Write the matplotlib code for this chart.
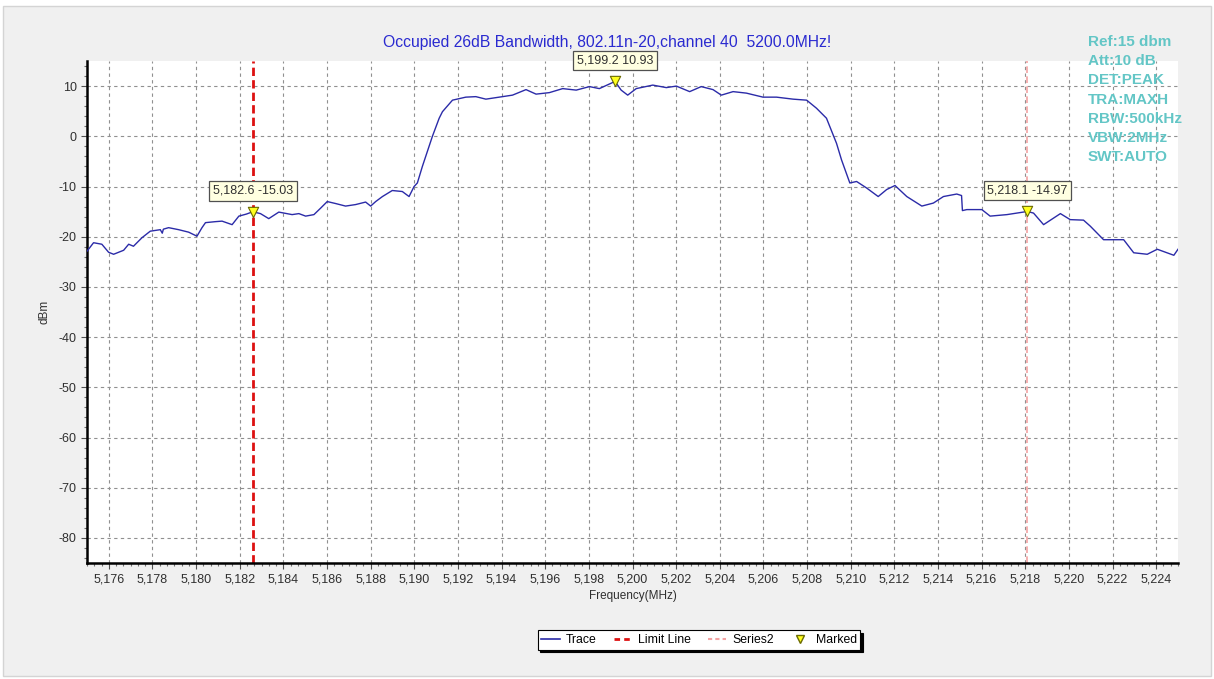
import numpy as np
import matplotlib
matplotlib.use('Agg')
import matplotlib.pyplot as plt
from matplotlib.lines import Line2D
from matplotlib.patches import Rectangle
from matplotlib.ticker import MultipleLocator, FuncFormatter

plt.rcParams['font.family'] = ['Liberation Sans', 'DejaVu Sans']
plt.rcParams['axes.unicode_minus'] = False

# trace (MHz, dBm)
freq = [5175.00, 5175.30, 5175.68, 5175.99, 5176.22, 5176.68, 5176.91, 5177.13, 5177.52, 5177.90,
        5178.36, 5178.45, 5178.50, 5178.74, 5179.20, 5179.66, 5180.04, 5180.27, 5180.43, 5180.89,
        5181.19, 5181.65, 5181.96, 5182.30, 5182.60, 5182.95, 5183.33, 5183.79, 5184.40, 5184.71,
        5185.02, 5185.40, 5185.71, 5186.01, 5186.40, 5186.85, 5187.31, 5187.77, 5188.00, 5188.23,
        5188.54, 5188.99, 5189.45, 5189.76, 5189.99, 5190.14, 5190.37, 5190.83, 5191.14, 5191.29,
        5191.75, 5192.36, 5192.82, 5193.28, 5193.89, 5194.50, 5195.12, 5195.58, 5196.19, 5196.80,
        5197.42, 5198.03, 5198.48, 5199.20, 5199.48, 5199.78, 5200.17, 5200.93, 5201.55, 5202.01,
        5202.62, 5203.15, 5203.69, 5204.07, 5204.61, 5205.22, 5205.98, 5206.60, 5207.36, 5207.98,
        5208.43, 5208.89, 5209.35, 5209.58, 5209.96, 5210.27, 5210.73, 5211.26, 5211.65, 5212.03,
        5212.57, 5213.26, 5213.79, 5214.25, 5214.86, 5215.08, 5215.12, 5215.32, 5216.01, 5216.39,
        5217.16, 5218.10, 5218.38, 5218.84, 5219.61, 5220.06, 5220.67, 5220.98, 5221.59, 5222.51,
        5222.97, 5223.59, 5224.05, 5224.81, 5225.00]
level = [-22.9, -21.2, -21.5, -23.1, -23.5, -22.7, -21.5, -21.9, -20.2, -18.9,
         -18.6, -19.3, -18.5, -18.2, -18.6, -19.1, -19.9, -18.2, -17.2, -17.0,
         -16.9, -17.6, -15.9, -15.5, -15.03, -15.4, -16.4, -15.1, -15.6, -15.4,
         -15.9, -15.6, -14.3, -13.0, -13.4, -13.9, -13.6, -13.1, -13.9, -13.0,
         -12.0, -10.8, -11.0, -12.0, -10.0, -9.3, -6.0, 0.0, 3.6, 4.9,
         7.2, 7.8, 7.9, 7.4, 7.8, 8.2, 9.3, 8.4, 8.7, 9.5,
         9.2, 9.9, 9.5, 10.93, 9.2, 8.2, 9.5, 10.2, 9.7, 10.0,
         8.9, 9.9, 9.3, 8.2, 8.9, 8.6, 7.8, 7.8, 7.4, 7.2,
         5.6, 3.6, -1.4, -4.7, -9.3, -9.0, -10.3, -12.0, -10.6, -9.8,
         -12.0, -13.9, -13.3, -12.0, -11.5, -11.8, -14.8, -14.6, -14.6, -15.9,
         -15.6, -14.97, -15.3, -17.6, -15.4, -16.6, -16.7, -17.9, -20.6, -20.6,
         -23.2, -23.5, -22.5, -23.7, -22.5]

mark_f = [5182.6, 5199.2, 5218.1]
mark_v = [-15.03, 10.93, -14.97]
limit_f = 5182.6
series2_f = 5218.1

title = 'Occupied 26dB Bandwidth, 802.11n-20,channel 40  5200.0MHz!'
settings = ['Ref:15 dbm', 'Att:10 dB', 'DET:PEAK', 'TRA:MAXH',
            'RBW:500kHz', 'VBW:2MHz', 'SWT:AUTO']

fig = plt.figure(figsize=(12.14, 6.79), dpi=100)
fig.patch.set_facecolor('white')
fig.patches.append(Rectangle((3/1214, 3/679), 1208/1214, 670/679, transform=fig.transFigure,
                             facecolor='#f0f0f0', edgecolor='#d4d4d4', lw=1, zorder=-10))

ax = fig.add_axes([87/1214, 1-563/679, (1178-87)/1214, (563-61)/679])
ax.set_facecolor('white')

ax.plot(freq, level, color='#2b2ba8', lw=1.0, zorder=3)
ax.axvline(limit_f, color='#dd1111', lw=2.0, ls=(0, (3, 1.5)), zorder=2)
ax.axvline(series2_f, color='#f4a3a3', lw=1.2, ls=(0, (4, 2)), zorder=2)
ax.scatter(mark_f, mark_v, marker='v', s=55, facecolor='#ffff20', edgecolor='#6b6b00', lw=0.8, zorder=5)

for f, v in zip(mark_f, mark_v):
    ax.annotate('{:,.1f} {:.2f}'.format(f, v), (f, v), xytext=(0, 21), textcoords='offset pixels',
                ha='center', va='center', fontsize=9, color='#303030',
                bbox=dict(boxstyle='square,pad=0.3', fc='#ffffe1', ec='#505050', lw=0.9), zorder=6)

ax.set_xlim(5175, 5225)
ax.set_ylim(-85, 15)
ax.xaxis.set_major_locator(MultipleLocator(2))
ax.xaxis.set_minor_locator(MultipleLocator(2/6))
ax.yaxis.set_major_locator(MultipleLocator(10))
ax.yaxis.set_minor_locator(MultipleLocator(2))
ax.xaxis.set_major_formatter(FuncFormatter(lambda x, p: '{:,.0f}'.format(x)))
ax.set_xticks(np.arange(5176, 5225, 2))

ax.grid(True, which='major', color='#909090', ls=(0, (3, 3)), lw=0.8)
for s in ['top', 'right']:
    ax.spines[s].set_visible(False)
for s in ['left', 'bottom']:
    ax.spines[s].set_linewidth(1.8)
    ax.spines[s].set_color('black')
ax.tick_params(which='major', length=4, width=0.8, color='#505050', labelsize=9, labelcolor='#303030')
ax.tick_params(which='minor', length=2.5, width=0.8, color='#707070')

ax.set_xlabel('Frequency(MHz)', fontsize=8.5, color='#303030', labelpad=3)
ax.set_ylabel('dBm', fontsize=8.5, color='#303030', labelpad=6)

fig.text(607/1214, 1-42/679, title, ha='center', va='center', fontsize=11.3, color='#2a2ad0')

for i, s in enumerate(settings):
    fig.text(1088/1214, 1-(42+19.2*i)/679, s, ha='left', va='center', fontsize=11,
             fontweight='bold', color='#63c6c6', zorder=10)

handles = [Line2D([], [], color='#2b2ba8', lw=1.2),
           Line2D([], [], color='#dd1111', lw=2.0, ls=(0, (2, 1.5))),
           Line2D([], [], color='#f4a3a3', lw=1.5, ls=(0, (2, 1.5))),
           Line2D([], [], ls='none', marker='v', markersize=6, markerfacecolor='#ffff20',
                  markeredgecolor='#6b6b00')]
leg = fig.legend(handles, ['Trace', 'Limit Line', 'Series2', 'Marked'], loc='center',
                 bbox_to_anchor=(699/1214, 1-640/679), ncol=4, fontsize=8.8, frameon=True,
                 fancybox=False, edgecolor='black', framealpha=1, handlelength=1.5,
                 columnspacing=1.4, handletextpad=0.5, borderpad=0.3,
                 shadow={'color': 'black', 'alpha': 1})
leg.get_frame().set_linewidth(0.8)

fig.savefig('out.png', dpi=100, facecolor=fig.get_facecolor())
